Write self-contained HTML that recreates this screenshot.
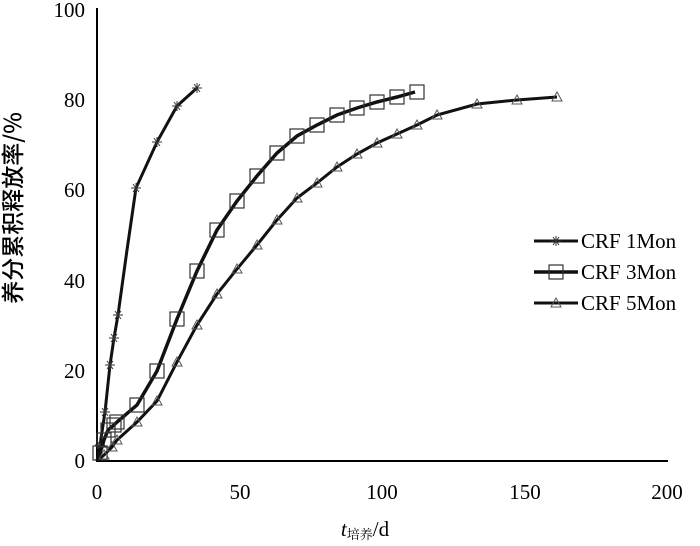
<!DOCTYPE html>
<html><head><style>body{margin:0;background:#fff}svg{display:block}text{font-family:"Liberation Serif","Noto Serif CJK SC",serif;fill:#000}</style></head><body>
<svg width="700" height="546" viewBox="0 0 700 546">
<defs>
<g id="star"><path d="M-5,0H5M-3,-4L3,4M-3,4L3,-4M0,-5V5" stroke="#333" stroke-width="1" fill="none"/></g>
<rect id="sq" x="-7" y="-7" width="14" height="14" fill="none" stroke="#333" stroke-width="1.2"/>
<path id="tri" d="M0,-5L5,4H-5Z" fill="none" stroke="#555" stroke-width="1"/>
</defs>
<line x1="97" y1="8" x2="97" y2="461" stroke="#000" stroke-width="2"/>
<line x1="96" y1="461" x2="668" y2="461" stroke="#000" stroke-width="2"/>
<g font-size="21" text-anchor="end">
<text x="85" y="17">100</text><text x="85" y="107">80</text><text x="85" y="197">60</text><text x="85" y="288">40</text><text x="85" y="378">20</text><text x="85" y="468">0</text></g>
<g font-size="21" text-anchor="middle">
<text x="97" y="499">0</text><text x="240" y="499">50</text><text x="382" y="499">100</text><text x="525" y="499">150</text><text x="667" y="499">200</text></g>
<text x="365" y="536" font-size="21" text-anchor="middle"><tspan font-style="italic">t</tspan><tspan font-size="13" dy="3">培养</tspan><tspan dy="-3">/d</tspan></text>
<text transform="translate(21,208) rotate(-90)" font-size="23" font-weight="bold" text-anchor="middle" style="font-family:'Noto Sans CJK SC','Liberation Serif',sans-serif;font-weight:500">养分累积释放率/%</text>
<polyline fill="none" stroke="#111" stroke-width="3" points="97,461 100,445 105,412 110,365 114,338 118,315 127,250 136,188 157,142 177,106 197,88"/>
<g><use href="#star" x="100" y="445"/><use href="#star" x="105" y="412"/><use href="#star" x="110" y="365"/><use href="#star" x="114" y="338"/><use href="#star" x="118" y="315"/><use href="#star" x="136" y="188"/><use href="#star" x="157" y="142"/><use href="#star" x="177" y="106"/><use href="#star" x="197" y="88"/></g>
<polyline fill="none" stroke="#111" stroke-width="3.5" points="97,461 100,453 104,440 108,430 114,425 117,422 137,405 157,371 177,319 197,271 217,230 237,201 257,176 277,153 297,136 317,125 337,115 357,108 377,102 397,97 415,92"/>
<g><use href="#sq" x="100" y="453"/><use href="#sq" x="104" y="440"/><use href="#sq" x="108" y="430"/><use href="#sq" x="114" y="425"/><use href="#sq" x="117" y="422"/><use href="#sq" x="137" y="405"/><use href="#sq" x="157" y="371"/><use href="#sq" x="177" y="319"/><use href="#sq" x="197" y="271"/><use href="#sq" x="217" y="230"/><use href="#sq" x="237" y="201"/><use href="#sq" x="257" y="176"/><use href="#sq" x="277" y="153"/><use href="#sq" x="297" y="136"/><use href="#sq" x="317" y="125"/><use href="#sq" x="337" y="115"/><use href="#sq" x="357" y="108"/><use href="#sq" x="377" y="102"/><use href="#sq" x="397" y="97"/><use href="#sq" x="417" y="92"/></g>
<polyline fill="none" stroke="#111" stroke-width="3" points="97,461 104,455 112,447 117,440 137,422 157,401 177,362 197,325 217,294 237,269 257,245 277,220 297,198 317,183 337,167 357,154 377,143 397,134 417,125 437,115 477,104 517,100 557,97"/>
<g><use href="#tri" x="104" y="455"/><use href="#tri" x="112" y="447"/><use href="#tri" x="117" y="440"/><use href="#tri" x="137" y="422"/><use href="#tri" x="157" y="401"/><use href="#tri" x="177" y="362"/><use href="#tri" x="197" y="325"/><use href="#tri" x="217" y="294"/><use href="#tri" x="237" y="269"/><use href="#tri" x="257" y="245"/><use href="#tri" x="277" y="220"/><use href="#tri" x="297" y="198"/><use href="#tri" x="317" y="183"/><use href="#tri" x="337" y="167"/><use href="#tri" x="357" y="154"/><use href="#tri" x="377" y="143"/><use href="#tri" x="397" y="134"/><use href="#tri" x="417" y="125"/><use href="#tri" x="437" y="115"/><use href="#tri" x="477" y="104"/><use href="#tri" x="517" y="100"/><use href="#tri" x="557" y="97"/></g>
<line x1="534" y1="241" x2="578" y2="241" stroke="#111" stroke-width="3"/><use href="#star" x="556" y="241"/>
<line x1="534" y1="272" x2="578" y2="272" stroke="#111" stroke-width="3.5"/><use href="#sq" x="556" y="272"/>
<line x1="534" y1="303" x2="578" y2="303" stroke="#111" stroke-width="3"/><use href="#tri" x="556" y="303"/>
<g font-size="21"><text x="581" y="248">CRF 1Mon</text><text x="581" y="279">CRF 3Mon</text><text x="581" y="310">CRF 5Mon</text></g>
</svg>
</body></html>
